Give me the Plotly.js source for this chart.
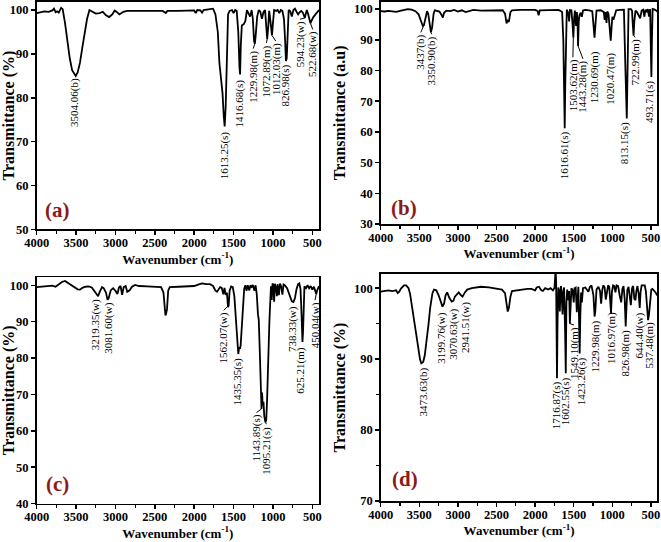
<!DOCTYPE html>
<html>
<head>
<meta charset="utf-8">
<script src="https://cdn.plot.ly/plotly-3.0.1.min.js"></script>
<style>html,body{margin:0;padding:0;background:#fff;}#chart{width:661px;height:542px;}</style>
</head>
<body>
<div id="chart"></div>
<script>
// ---------- Panel (a) ----------
const aWn = [4000,3950,3900,3850,3800,3780,3760,3740,3720,3690,3670,3640,3610,3580,3550,3520,3504,3480,3450,3420,3390,3360,3330,3300,3250,3200,3160,3120,3080,3040,3010,2980,2950,2900,2850,2700,2500,2400,2360,2340,2200,2000,1980,1960,1920,1900,1880,1800,1760,1730,1700,1680,1660,1640,1625,1613,1600,1585,1570,1550,1520,1500,1480,1460,1440,1425,1417,1408,1395,1370,1350,1330,1310,1290,1270,1255,1240,1230,1220,1200,1180,1160,1140,1120,1100,1085,1073,1060,1048,1035,1020,1012,1000,985,960,940,920,900,880,860,845,835,825,812,800,780,760,740,720,700,680,660,640,620,605,594,585,570,555,540,523,510,490,460,430,415];
const aT  = [99.3,99.5,99.7,99.6,99.9,100.3,99.5,99.7,99.4,100.5,100.2,97,93,89,86.3,85.2,85.0,85.8,88,91.5,95,98,100,99.7,99.2,99.3,99.6,98.8,98.4,99,99.9,99.5,99.0,99.6,99.8,99.8,99.9,99.8,99.3,99.8,99.8,99.9,99.3,100,99.9,99.4,100,100.1,100.3,99,95,88,84.5,81,76,73.5,78,90,99,99.8,100,99.3,100,99.8,95,87,85.3,92,96.5,96.8,97.5,100,99.3,98.5,100,98,93,92.3,94,98.5,100,99.6,98,99.5,100,96,93.4,96,99.8,98,94.5,94.2,97,100,99.8,100,99.3,100,99.8,98,93,88.4,89,96,100,99.7,98.5,100,100.3,99.6,99,99.5,99.8,99.4,98.5,98.2,99,100,99.2,98,97,97.5,98.3,99,99.6,100];
const aPeakText = ["3504.06(b)","1613.25(s)","1416.68(s)","1229.98(m)","1072.89(m)","1012.03(m)","826.98(s)","594.23(w)","522.68(w)"];
const aPeakX = [3511,1604,1421,1251,1082,963,835,657,495];
const aPeakY = [84.9,72.9,84.6,91.2,92.5,92.9,88.0,97.9,95.6];
const aHook  = [0,0,0,1,1,1,0,1,1];

// ---------- Panel (b) ----------
const bWn = [4000,3950,3900,3850,3800,3750,3700,3650,3600,3550,3510,3480,3455,3440,3420,3400,3385,3365,3350,3335,3315,3300,3270,3240,3210,3195,3180,3150,3100,3050,3000,2950,2900,2850,2800,2700,2600,2500,2420,2390,2370,2355,2340,2320,2300,2200,2100,2000,1970,1955,1940,1850,1750,1700,1680,1650,1635,1625,1617,1610,1600,1590,1570,1560,1550,1530,1515,1505,1495,1485,1470,1460,1452,1444,1435,1425,1410,1395,1380,1350,1300,1260,1245,1231,1220,1205,1150,1110,1100,1090,1075,1065,1050,1035,1021,1010,1000,985,970,950,900,850,830,820,813,806,798,790,760,745,735,725,715,700,680,660,640,620,600,585,570,555,540,525,510,500,494,487,478,450,430,415];
const bT  = [99.3,99.2,99.4,99.3,99.1,99.4,99.6,100,99.8,99.3,98.3,96.5,94.5,94.8,97.5,99.3,98.5,95,92.4,94,98.5,99.6,99.5,99.2,98,97.2,98.8,99.5,99.3,99.7,99.2,99.6,99.0,99.4,99.7,99.5,99.6,99.7,99.6,98.5,95.3,96.5,95.8,99,99.6,99.7,99.6,99.7,99.4,98,99.6,99.7,99.6,99.7,99.5,99,90,70,61.2,75,98,99.8,98.5,96,99.7,99.6,95,90.7,97,99.5,94.5,99,97,88,96,98,98.8,97.5,99.5,99.7,99.6,99.3,95,90.7,94.5,99.5,99.6,99.0,96.5,99,95.5,99.2,98.5,92,89.7,94,97.5,96.5,98,99.6,99.7,99.8,80,66,64.4,75,99,100,100,99.5,95,91.3,96,99.5,99,98,97,99.5,99.8,97.5,99.8,99,100,97.5,100,85,77.9,90,100,99.8,99.3,99.2];
const bPeakText = ["3437(b)","3350.90(b)","1616.61(s)","1503.62(m)","1443.28(m)","1230.69(m)","1020.47(m)","813.15(s)","722.99(m)","493.71(s)"];
const bPeakX = [3481,3339,1619,1511,1381,1222,1027,833,703,509];
const bPeakY = [92.4,91.8,60.7,84.3,83.8,87.0,86.5,63.9,90.8,77.3];
const bHook  = [1,1,0,1,1,0,0,0,1,0];

// ---------- Panel (c) ----------
const cWn = [4000,3950,3900,3850,3800,3760,3720,3680,3640,3600,3560,3520,3480,3450,3420,3380,3340,3300,3270,3240,3220,3200,3170,3150,3120,3100,3085,3060,3030,3000,2975,2955,2935,2915,2895,2870,2850,2820,2790,2750,2700,2600,2500,2420,2390,2375,2365,2355,2345,2330,2310,2200,2100,2000,1950,1900,1850,1800,1760,1730,1710,1690,1670,1650,1630,1615,1600,1585,1570,1562,1550,1530,1510,1490,1470,1455,1440,1428,1418,1410,1395,1380,1365,1350,1335,1320,1300,1285,1270,1255,1235,1220,1205,1190,1180,1170,1160,1150,1145,1138,1130,1120,1110,1095,1085,1075,1065,1055,1045,1035,1025,1015,1005,995,985,975,960,950,940,925,910,895,880,865,850,820,790,760,740,720,700,680,665,650,640,630,625,618,610,600,580,560,540,520,500,480,465,450,440,425,415];
const cT  = [99.5,99.6,99.8,99.8,99.9,99.6,100.2,100.9,101.2,100.6,99.9,99.3,98.9,98.8,99.3,99.6,99.7,99.4,98.5,97.3,97,98.2,99.5,99.2,98,96,96.5,98.6,99.2,98.5,97.6,99.4,99.8,97.4,99.5,99.8,98.2,98.6,99.6,100.1,99.8,99.7,99.6,99.5,98,93,91.7,92.3,93.5,98.5,99.5,99.6,99.6,99.8,100.2,100.5,100.3,100.3,99.8,98.5,98.2,99,99.5,99.3,97.5,99.3,97.4,98,94,94.5,98.5,99.7,99.5,97,91,84,81.1,83,82.5,83.5,88,95,99,100,98.5,100,98.6,100,99.4,100.1,98.5,100,97.5,92,90.5,84,78,71,66,70.5,67,68,64,62.3,63,68,77,84,90,95,99.7,96,100.5,100.2,95.5,100.4,99.3,97,100.3,97.3,100.5,99.7,97.4,100.2,100,99.2,97.5,95.6,95.4,96.5,99,100.3,100.5,99,94,85,84.4,87,98,99.7,99.2,100,99.2,99.8,98.8,99.6,98.6,97.6,98.5,99.6,99.8];
const cPeakText = ["3219.35(w)","3081.60(w)","1562.07(w)","1435.35(s)","1143.89(s)","1095.21(s)","738.33(w)","625.21(m)","450.04(w)"];
const cPeakX = [3248,3091,1625,1455,1209,1082,742,644,466];
const cPeakY = [96.8,95.7,93.1,80.7,65.0,61.8,94.9,83.4,95.9];
const cHook  = [0,0,1,0,1,1,0,0,1];

// ---------- Panel (d) ----------
const dWn = [4000,3950,3900,3850,3800,3780,3760,3740,3700,3670,3640,3620,3600,3570,3540,3510,3490,3474,3450,3430,3400,3380,3360,3330,3310,3280,3250,3220,3200,3180,3160,3140,3110,3080,3060,3040,3010,2990,2960,2940,2910,2880,2820,2750,2700,2600,2500,2430,2390,2370,2355,2340,2320,2300,2200,2100,2050,2000,1980,1950,1920,1900,1870,1830,1800,1770,1750,1735,1728,1722,1717,1710,1700,1690,1680,1672,1665,1655,1645,1635,1625,1612,1603,1595,1585,1570,1560,1550,1540,1530,1515,1500,1490,1475,1460,1450,1440,1430,1423,1415,1405,1395,1380,1350,1330,1310,1290,1270,1245,1230,1220,1205,1180,1160,1145,1130,1115,1100,1085,1070,1055,1040,1025,1017,1005,990,975,960,945,925,905,885,870,855,840,827,818,805,790,775,760,745,730,715,700,690,675,660,645,635,620,600,580,565,550,537,525,510,495,480,460,440,420,415];
const dT  = [99.5,99.6,99.7,99.6,99.7,99.3,99.5,99.9,100.4,100.4,100,99.2,97.8,95.5,93,91,89.9,89.4,89.6,90.5,93,95,97.2,99.3,99.8,99.7,99,97.8,97.4,97.8,99,99.4,98.6,98.1,98.2,98.8,99.2,99.4,99,98.8,99.4,99.8,100,100.1,100.2,100.1,99.9,99.8,99.3,97.8,96.7,97.2,98.8,99.6,99.8,99.9,99.9,99.7,100.1,100.2,99.7,99.6,100,99.8,100,99.7,100,102.5,101,92,87.3,95,100.1,99.6,96.7,99.5,100.3,98.7,96.3,99.6,100.1,94,88,98,99.8,98.3,99.6,95,98,100,99.7,98,100,100.1,96.6,99.6,100.2,95,90.8,96,99.4,98,100,100.1,99.8,99.5,100.2,100.4,99,96,96.8,99.8,100.2,99.6,97.8,99.8,100.4,100.1,98.4,99.4,100.4,100.2,97.5,96.5,99.5,100.4,100.3,99.4,100.4,100.3,99,98,99.9,100.3,98.5,94.6,97,99.8,100.2,98.6,97.6,100,100.3,98.5,98.3,99.5,100.3,99.3,97.2,99.4,100.4,100.4,100.4,99.5,97,95.5,96.3,98.4,99.8,99.9,99.7,99.4,99,99.1];
const dPeakText = ["3473.63(b)","3199.76(w)","3070.63(w)","2941.51(w)","1716.87(s)","1602.55(s)","1549.10(m)","1423.26(s)","1229.98(m)","1016.97(m)","826.98(m)","644.40(w)","537.48(m)"];
const dPeakX = [3446,3207,3056,2904,1713,1604,1496,1401,1215,1020,825,651,521];
const dPeakY = [89.1,96.9,97.4,98.3,87.2,87.7,94.8,90.6,95.7,96.9,94.3,96.9,95.5];
const dHook  = [0,0,0,0,0,0,1,0,0,0,0,0,0];

const panelLabels = ["(a)","(b)","(c)","(d)"];
const yTitles = ["Transmittance (%)","Transmittance (a.u)","Transmittance (%)","Transmittance (%)"];
const xTitle = "Wavenumber (cm<sup>-1</sup>)";

// ---------- build ----------
const SERIF = "Liberation Serif, Times New Roman, serif";
const panels = [
  {wn:aWn, t:aT, pt:aPeakText, px:aPeakX, py:aPeakY, hk:aHook, yr:[50,101.9], xd:[0.0555,0.4826], yd:[0.5766,0.9969], lab:[3741,54.4]},
  {wn:bWn, t:bT, pt:bPeakText, px:bPeakX, py:bPeakY, hk:bHook, yr:[30,102.4], xd:[0.576,0.9947], yd:[0.5867,0.9969], lab:[3698,35.1]},
  {wn:cWn, t:cT, pt:cPeakText, px:cPeakX, py:cPeakY, hk:cHook, yr:[40,102.2], xd:[0.0555,0.4826], yd:[0.0710,0.4884], lab:[3741,45.3]},
  {wn:dWn, t:dT, pt:dPeakText, px:dPeakX, py:dPeakY, hk:dHook, yr:[70,102], xd:[0.576,0.9947], yd:[0.0756,0.4945], lab:[3688,73.1]}
];

// value of the drawn spectrum nearest to a wavenumber (for leader lines)
function nearestT(wn, t, target){
  let best = 0, bd = Infinity;
  for (let k=0;k<wn.length;k++){ const d=Math.abs(wn[k]-target); if(d<bd){bd=d;best=k;} }
  return [wn[best], t[best]];
}

const data = [];
const annotations = [];
const shapes = [];
const layout = {
  width:661, height:542,
  margin:{l:0,r:0,t:0,b:0},
  paper_bgcolor:"#fff", plot_bgcolor:"#fff",
  showlegend:false,
  font:{family:SERIF, color:"#000"}
};

panels.forEach((p,i)=>{
  const n = i===0 ? "" : String(i+1);
  const xa = "x"+n, ya = "y"+n;
  data.push({x:p.wn, y:p.t, xaxis:xa, yaxis:ya, type:"scatter", mode:"lines",
    line:{color:"#000", width:1.8}, hoverinfo:"skip"});
  layout["xaxis"+n] = {
    domain:p.xd, anchor:ya, range:[4000,415],
    tick0:500, dtick:500, ticks:"outside", ticklen:4, tickwidth:1.5, tickcolor:"#000",
    minor:{dtick:250, ticks:"outside", ticklen:3, tickwidth:1.2, tickcolor:"#000"},
    showline:true, linecolor:"#000", linewidth:1.6, mirror:true,
    showgrid:false, zeroline:false, ticklabelstandoff:-3,
    tickfont:{family:SERIF, size:12.5, weight:"bold", color:"#000"},
    title:{text:xTitle, font:{family:SERIF, size:13, weight:"bold", color:"#000"}, standoff:0}
  };
  layout["yaxis"+n] = {
    domain:p.yd, anchor:xa, range:p.yr,
    dtick:10, tick0:0, ticks:"outside", ticklen:4, tickwidth:1.5, tickcolor:"#000",
    showline:true, linecolor:"#000", linewidth:1.6, mirror:true,
    showgrid:false, zeroline:false,
    tickfont:{family:SERIF, size:12.5, weight:"bold", color:"#000"},
    title:{text:yTitles[i], font:{family:SERIF, size:16, weight:"bold", color:"#000"}, standoff:4}
  };
  if (i===3) layout["yaxis"+n].minor = {dtick:5, ticks:"outside", ticklen:3, tickwidth:1.2, tickcolor:"#000"};
  p.pt.forEach((txt,k)=>{
    annotations.push({xref:xa, yref:ya, x:p.px[k], y:p.py[k], text:txt, showarrow:false,
      textangle:-90, xanchor:"center", yanchor:"top",
      font:{family:SERIF, size:11, color:"#000"}});
    if (p.hk[k]) {
      const pk = nearestT(p.wn, p.t, parseFloat(txt));
      shapes.push({type:"line", xref:xa, yref:ya, x0:pk[0], y0:pk[1], x1:p.px[k], y1:p.py[k],
        line:{color:"#000", width:1}});
    }
  });
  annotations.push({xref:xa, yref:ya, x:p.lab[0], y:p.lab[1], text:panelLabels[i], showarrow:false,
    xanchor:"center", yanchor:"middle",
    font:{family:SERIF, size:21, weight:"bold", color:"#8B1A1A"}});
});
layout.annotations = annotations;
layout.shapes = shapes;

Plotly.newPlot("chart", data, layout, {displayModeBar:false, staticPlot:true});
</script>
</body>
</html>
